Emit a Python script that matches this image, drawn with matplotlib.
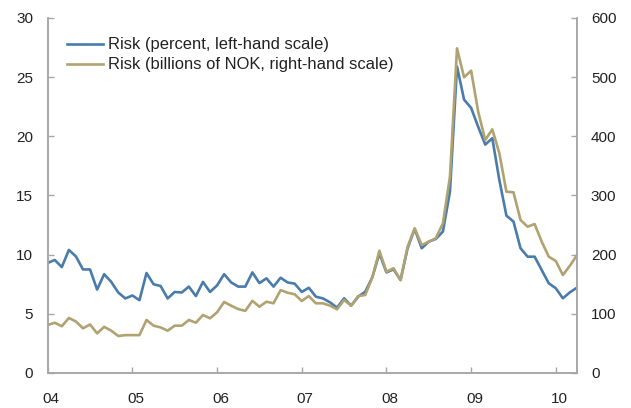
import numpy as np
import matplotlib
matplotlib.use("Agg")
from matplotlib import pyplot as plt
from matplotlib.transforms import ScaledTranslation

plt.rcParams['font.family'] = ['Liberation Sans', 'DejaVu Sans']

# monthly observations, Dec 2003 .. Mar 2010
risk_pct = [9.3, 9.55, 8.95, 10.4, 9.85, 8.75, 8.75, 7.05, 8.35, 7.7,
            6.8, 6.3, 6.55, 6.15, 8.45, 7.5, 7.35, 6.3, 6.85, 6.8,
            7.3, 6.5, 7.7, 6.85, 7.4, 8.35, 7.65, 7.3, 7.3, 8.5,
            7.6, 8.0, 7.3, 8.05, 7.65, 7.55, 6.85, 7.2, 6.45, 6.3,
            5.97, 5.52, 6.31, 5.69, 6.45, 6.87, 8.09, 10.1, 8.5, 8.76,
            7.86, 10.54, 12.17, 10.54, 11.1, 11.33, 11.95, 15.33, 25.9, 23.1,
            22.4, 20.8, 19.3, 19.84, 16.3, 13.3, 12.8, 10.54, 9.83, 9.83,
            8.7, 7.58, 7.16, 6.31, 6.82, 7.21]

risk_nok = [81, 85, 79, 93, 87, 75.5, 82, 67, 78, 71.5,
            62.5, 64, 64, 64, 89.6, 80, 77, 71.5, 80, 80,
            89.6, 85, 98, 92.4, 102.6, 120, 113.7, 108, 105, 122,
            112, 120.5, 117.8, 140, 135.7, 133, 121.7, 130, 117.8, 117.8,
            113.8, 107.6, 123.4, 113.8, 130, 131.8, 161.7, 206.7, 171.2, 177,
            157, 213.5, 244.5, 216.3, 222, 227.6, 253, 331.8, 548.7, 499.7,
            511, 441.6, 393.8, 411.8, 371.3, 306.4, 305.4, 258.6, 247.3, 251.8,
            222, 196.6, 189.3, 165.6, 181.3, 199.4]

years = [2004, 2005, 2006, 2007, 2008, 2009, 2010]
year_labels = ['04', '05', '06', '07', '08', '09', '10']

t = 2004 + np.arange(len(risk_pct)) / 12.0

blue = '#4a7cab'
gold = '#b1a271'
spine_col = '#a6a6a6'
text_col = '#222222'

fig = plt.figure(figsize=(6.31, 4.08), dpi=100)
ax = fig.add_axes([0.0756, 0.0858, 0.8388, 0.8701])
ax2 = ax.twinx()

l1, = ax.plot(t, risk_pct, color=blue, lw=1.9, label='Risk (percent, left-hand scale)')
l2, = ax2.plot(t, risk_nok, color=gold, lw=1.9, label='Risk (billions of NOK, right-hand scale)')

ax.set_xlim(2004, 2010.25)
ax.set_ylim(0, 30)
ax2.set_ylim(0, 600)
ax.set_yticks(range(0, 31, 5))
ax2.set_yticks(range(0, 601, 100))
ax.set_xticks(years)
ax.set_xticklabels(year_labels)

for a in (ax, ax2):
    a.spines['top'].set_visible(False)
    for s in ('left', 'right', 'bottom'):
        a.spines[s].set_color(spine_col)
        a.spines[s].set_linewidth(1.1)
    a.tick_params(direction='in', length=4, width=1, color=spine_col,
                  labelsize=11, labelcolor=text_col)
ax.tick_params(axis='y', pad=10.5)
ax2.tick_params(axis='y', pad=10)
ax.tick_params(axis='x', pad=13.5)

# x labels sit a little right of the ticks
for lab in ax.get_xticklabels():
    lab.set_transform(lab.get_transform() + ScaledTranslation(0.035, 0, fig.dpi_scale_trans))

fig.legend([l1, l2], [l1.get_label(), l2.get_label()], loc='upper left',
           bbox_to_anchor=(66.7 / 631, 1 - 37.5 / 408), frameon=False,
           borderpad=0, borderaxespad=0, handlelength=2.2, handletextpad=0.3,
           labelspacing=0.3, fontsize=11.9, labelcolor=text_col)

fig.savefig('out.png', dpi=100)
